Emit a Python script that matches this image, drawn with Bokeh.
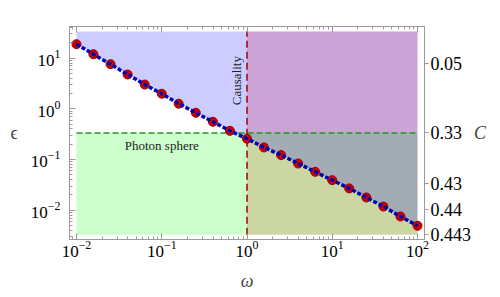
import numpy as np
from bokeh.plotting import figure
from bokeh.models import (Range1d, LogAxis, LogTicker, FixedTicker, CustomJSTickFormatter,
                          Label)
from bokeh.embed import file_html
from bokeh.resources import INLINE

# data
omega = [0.01, 0.0158, 0.0251, 0.0398, 0.0631, 0.1, 0.158, 0.251, 0.398, 0.631, 1.0,
         1.58, 2.51, 3.98, 6.31, 10.0, 15.8, 25.1, 39.8, 63.1, 100.0]
eps = [18.8, 11.9, 7.59, 4.75, 3.01, 1.98, 1.26, 0.834, 0.555, 0.368, 0.257,
       0.173, 0.122, 0.0832, 0.0571, 0.0391, 0.0269, 0.0178, 0.0118, 0.00752, 0.00493]
eps_top = 33.5
eps_bottom = 0.00327
omega_min, omega_max = 0.01, 100.0
omega_causal = 1.0
eps_photon = 1.0 / 3.0
C_values = [0.05, 0.33, 0.43, 0.44, 0.443]
C_labels = ["0.05", "0.33", "0.43", "0.44", "0.443"]
C_eps = [4.0 / (9.0 * c) - 1.0 for c in C_values]

SERIF = "Liberation Serif"
GRAY = "#9a9a9a"

p = figure(frame_width=355, frame_height=213, x_axis_type="log", y_axis_type="log",
           x_range=Range1d(10 ** -2.082, 10 ** 2.082),
           y_range=Range1d(10 ** -2.578, 10 ** 1.623),
           output_backend="svg", toolbar_location=None,
           min_border_left=69, min_border_right=10, min_border_top=26, min_border_bottom=10)
p.grid.visible = False
p.outline_line_color = GRAY
p.background_fill_color = "white"
p.border_fill_color = "white"

# shaded regions
p.varea(x=[omega_causal, omega_max], y1=[eps_bottom, eps_bottom], y2=[eps_top, eps_top],
        fill_color="red", fill_alpha=0.2)
p.varea(x=[omega_min, omega_max], y1=[eps_bottom, eps_bottom], y2=[eps_photon, eps_photon],
        fill_color="lime", fill_alpha=0.2)
p.varea(x=omega, y1=eps, y2=[eps_top] * len(eps), fill_color="blue", fill_alpha=0.2)

# boundary lines
p.line([omega_min, omega_max], [eps_photon, eps_photon], line_color="#1f9a1f",
       line_width=1.5, line_dash="6 3")
p.line([omega_causal, omega_causal], [eps_bottom, eps_top], line_color="#a00000",
       line_width=1.5, line_dash="7 4")

# data
p.scatter(omega, eps, size=9, fill_color="#cc0000", line_color="#990000")
p.line(omega, eps, line_color="#0000b0", line_width=3.5, line_dash="4 2")

# axes styling
def style(ax, labels=True):
    ax.axis_line_color = GRAY
    ax.major_tick_line_color = GRAY
    ax.minor_tick_line_color = GRAY
    ax.major_tick_in = 6
    ax.major_tick_out = 0
    ax.minor_tick_in = 3
    ax.minor_tick_out = 0
    ax.major_label_text_font = SERIF
    ax.major_label_text_font_size = "17px"
    ax.major_label_text_color = "black"
    ax.axis_label_text_font = SERIF
    ax.axis_label_text_font_style = "normal"
    ax.axis_label_text_font_size = "18px"
    if not labels:
        ax.major_label_text_alpha = 0
        ax.major_label_text_font_size = "1px"
        ax.major_label_standoff = 0

for ax in p.xaxis + p.yaxis:
    ax.ticker = LogTicker(num_minor_ticks=10)
    style(ax)

p.xaxis.axis_label = "ω"
p.xaxis.axis_label_text_font_style = "italic"
p.xaxis.major_label_standoff = 1
p.xaxis.axis_label_standoff = 11
p.yaxis.axis_label = "ϵ"
p.yaxis.axis_label_orientation = "horizontal"
p.yaxis.major_label_standoff = 9
p.yaxis.axis_label_standoff = 10

top = LogAxis(ticker=LogTicker(num_minor_ticks=10))
style(top, labels=False)
p.add_layout(top, "above")

right = LogAxis(ticker=FixedTicker(ticks=C_eps, minor_ticks=[]),
                formatter=CustomJSTickFormatter(args=dict(tvals=C_eps, tlabels=C_labels), code="""
let best = 0, d = Infinity;
for (let i = 0; i < tvals.length; i++) {
  const e = Math.abs(Math.log(tick) - Math.log(tvals[i]));
  if (e < d) { d = e; best = i; }
}
return tlabels[best];
"""))
style(right)
right.major_tick_in = 0
right.major_tick_out = 4
right.major_label_standoff = 2
right.major_label_text_font_size = "18px"
right.axis_label = "C"
right.axis_label_text_font_style = "italic"
right.axis_label_orientation = "horizontal"
right.axis_label_standoff = 0
p.add_layout(right, "right")

# annotations
p.add_layout(Label(x=omega_causal, y=3.6, text="Causality", angle=np.pi / 2,
                   text_align="center", text_baseline="bottom", x_offset=-3,
                   text_font=SERIF, text_font_size="13px", text_color="#222222"))
p.add_layout(Label(x=0.1, y=0.27, text="Photon sphere", text_align="center",
                   text_baseline="top", text_font=SERIF, text_font_size="13px",
                   text_color="#222222"))

open("out.html", "w").write(file_html(p, INLINE))
